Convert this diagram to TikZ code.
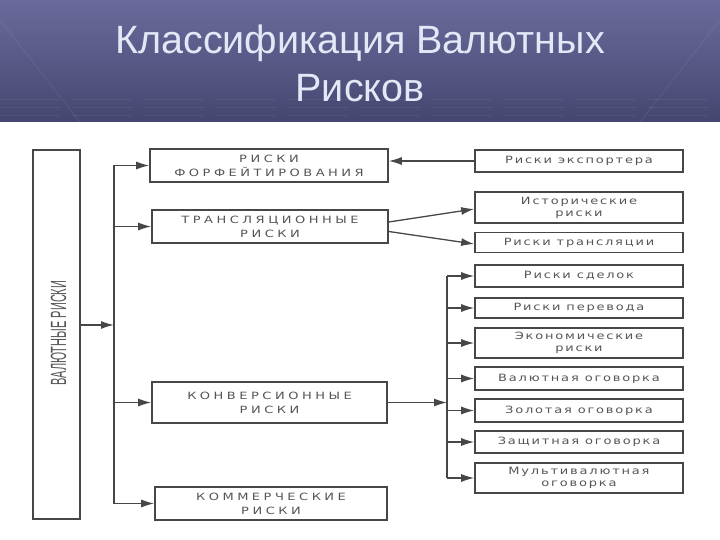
\documentclass[tikz,border=0pt]{standalone}
\usepackage{fontspec}
\setmainfont{Liberation Sans}
\newfontfamily\capsfont[FakeStretch=1.3,LetterSpace=35]{DejaVu Sans}
\newfontfamily\lowfont[FakeStretch=1.3,LetterSpace=18]{DejaVu Sans}
\usetikzlibrary{arrows.meta}
\definecolor{headtop}{HTML}{6A6B9C}
\definecolor{headbot}{HTML}{45466F}
\definecolor{titletext}{HTML}{E2E8F6}
\definecolor{scanline}{HTML}{474747}
\definecolor{scantext}{HTML}{555555}
\begin{document}
\begin{tikzpicture}[x=1pt,y=-1pt,
        box/.style={draw=scanline,line width=1.6pt,inner sep=0pt,align=center,text=scantext},
        capsbox/.style={box,font=\capsfont\fontsize{10}{14}\selectfont},
        lowbox/.style={box,minimum width=208pt,font=\lowfont\fontsize{10}{12}\selectfont},
        feed/.style={draw=scanline,line width=1.3pt,-{Latex[length=13pt,width=8pt]}},
        trunk/.style={draw=scanline,line width=1.8pt}]
    \useasboundingbox (0,0) rectangle (720,540);
    % header band
    \shade[top color=headtop,bottom color=headbot] (0,0) rectangle (720,122);
    \foreach \yy in {100,108,116}
    {
        \draw[white,opacity=.06,line width=1pt,dash pattern=on 60pt off 12pt] (0,\yy) -- (720,\yy);
    }
    \draw[white,opacity=.06,line width=1pt] (0,20) -- (80,122);
    \draw[white,opacity=.06,line width=1pt] (640,122) -- (720,20);
    \node[anchor=base,text=titletext,font=\fontsize{39.5}{44}\selectfont] (title1) at (360,54) {Классификация Валютных};
    \node[anchor=base,text=titletext,font=\fontsize{39.5}{44}\selectfont] (title2) at (360,102) {Рисков};
    % left column
    \node[box,minimum width=47pt,minimum height=369pt] (valr) at (56.5,334.5) {};
    \node[rotate=90,text=scantext,font=\fontsize{22}{22}\selectfont] (valrtext) at (58.5,333) {\scalebox{0.5}[1]{ВАЛЮТНЫЕ РИСКИ}};
    % middle column
    \node[capsbox,minimum width=238pt,minimum height=33pt] (forf) at (269,165.5) {РИСКИ\\ФОРФЕЙТИРОВАНИЯ};
    \node[capsbox,minimum width=236pt,minimum height=33pt] (trans) at (270,226.5) {ТРАНСЛЯЦИОННЫЕ\\РИСКИ};
    \node[capsbox,minimum width=235pt,minimum height=41pt] (konv) at (269.5,402.5) {КОНВЕРСИОННЫЕ\\РИСКИ};
    \node[capsbox,minimum width=232pt,minimum height=33pt] (komm) at (271,503.5) {КОММЕРЧЕСКИЕ\\РИСКИ};
    % right column
    \foreach \n/\yc/\h/\txt in {eksp/161/22/{Риски экспортера},
            istor/207.5/31/{Исторические\\риски},
            transl/242.5/20/{Риски трансляции},
            sdel/276/22/{Риски сделок},
            perev/308/20/{Риски перевода},
            ekon/343/30/{Экономические\\риски},
            valog/378.5/23/{Валютная оговорка},
            zolog/410.5/23/{Золотая оговорка},
            zasch/442/22/{Защитная оговорка},
            multi/478/30/{Мультивалютная\\оговорка}}
    {
        \node[lowbox,minimum height=\h pt] (\n) at (579,\yc) {\txt};
    }
    % connectors
    \coordinate (t1top) at (114,165.5);
    \coordinate (t1bot) at (114,503.5);
    \coordinate (t1in) at (114,325);
    \coordinate (t2top) at (447,276);
    \coordinate (t2bot) at (447,478);
    \draw[trunk] (t1top) -- (t1bot);
    \draw[trunk] (t2top) -- (t2bot);
    \draw[feed] (valr.east |- t1in) -- (t1in);
    \foreach \n in {forf,trans,konv,komm}
    {
        \draw[feed] (\n.west -| t1top) -- (\n.west);
    }
    \foreach \n in {sdel,perev,ekon,valog,zolog,zasch,multi}
    {
        \draw[feed] (\n.west -| t2top) -- (\n.west);
    }
    \draw[feed] (konv.east) -- (konv.east -| t2top);
    \draw[feed] (eksp.west) -- (eksp.west -| forf.east);
    \draw[feed] ([yshift=4.5pt]trans.east) -- ([yshift=-1.5pt]istor.west);
    \draw[feed] ([yshift=-5pt]trans.east) -- ([yshift=-1.5pt]transl.west);
\end{tikzpicture}
\end{document}
